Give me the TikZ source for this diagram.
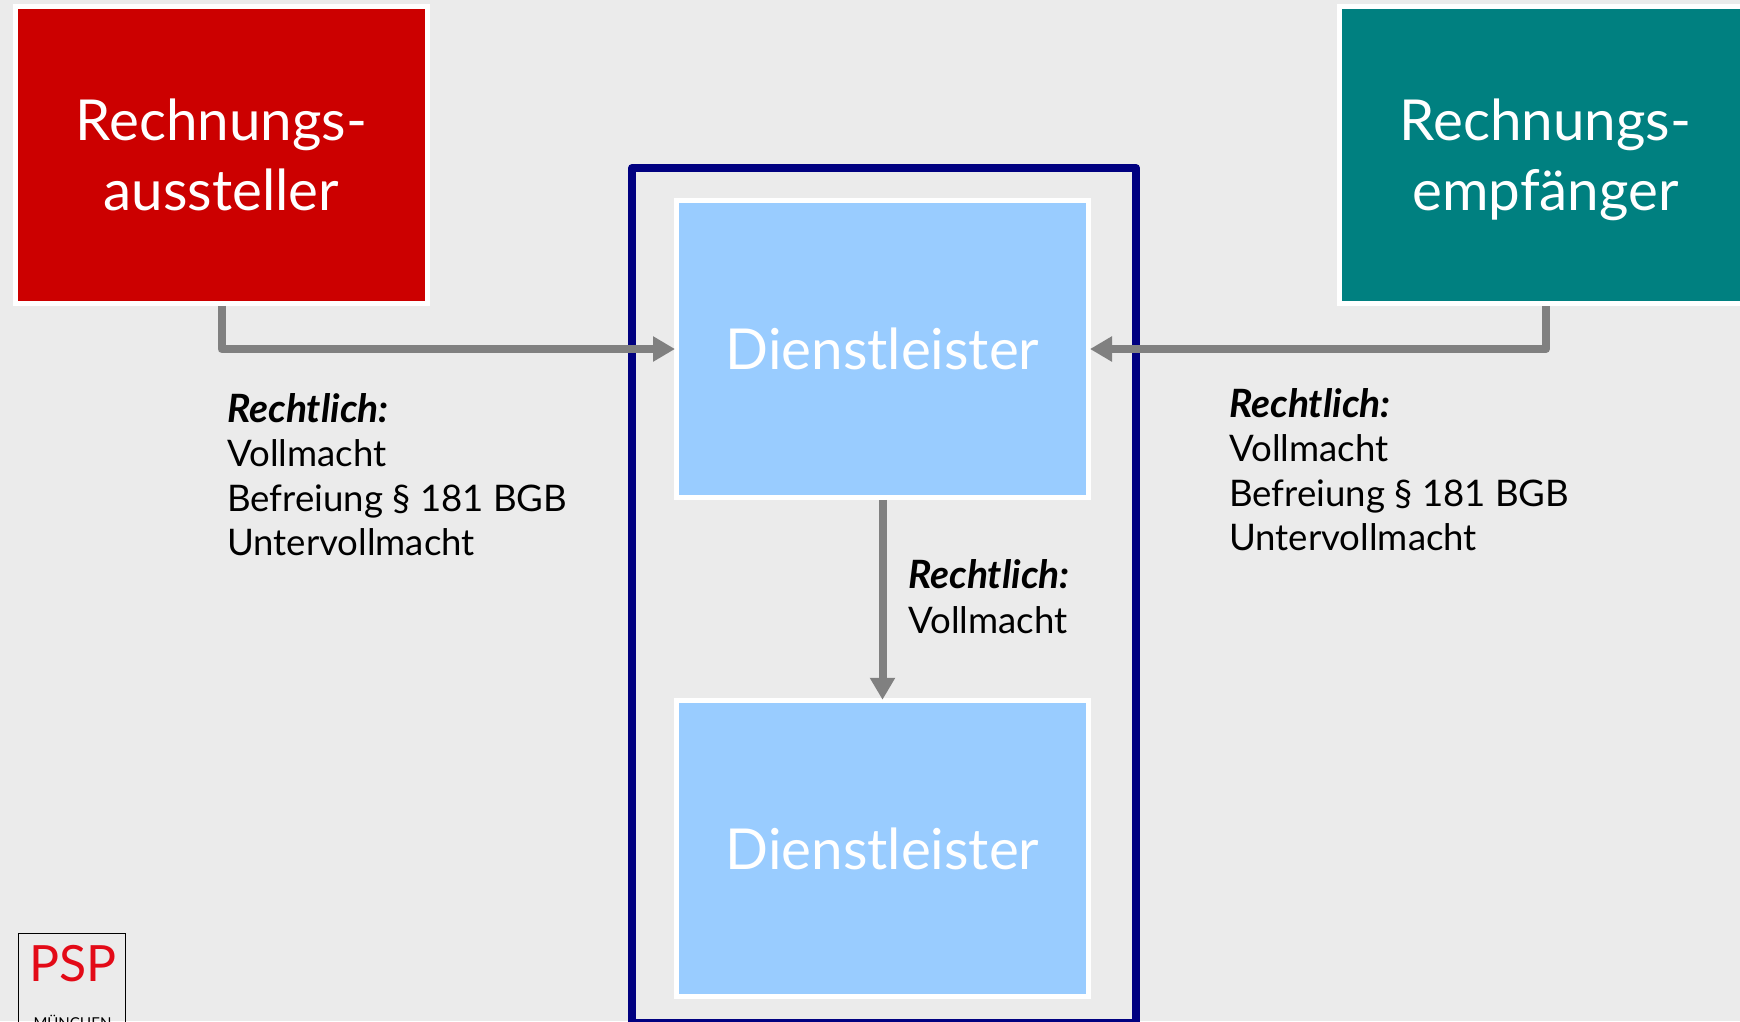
\documentclass[tikz,border=0pt]{standalone}
\usepackage{fontspec}
\setmainfont{Lato}
\usetikzlibrary{arrows.meta, positioning}
\definecolor{pagegrey}{HTML}{EBEBEB}
\definecolor{ausred}{HTML}{CC0000}
\definecolor{empteal}{HTML}{008080}
\definecolor{dienstblue}{HTML}{99CCFF}
\definecolor{framenavy}{HTML}{000080}
\definecolor{linkgrey}{HTML}{808080}
\definecolor{pspred}{HTML}{E30A17}
\newcommand{\rechtlichhead}{{\fontsize{39}{44.6}\selectfont\bfseries\itshape Rechtlich:}}
\tikzset{
    partybox/.style={draw=white,line width=5pt,text=white,align=center,font=\fontsize{56.5}{70}\selectfont,minimum width=412pt,minimum height=296.5pt,inner sep=0pt},
    legal/.style={anchor=north west,align=left,inner sep=0pt,font=\fontsize{36.6}{44.6}\selectfont},
    link/.style={draw=linkgrey,line width=8pt,-{Triangle[length=22pt,width=24pt]},line join=round,shorten >=-1pt}
}
\begin{document}
\begin{tikzpicture}[x=1pt,y=-1pt]
    \useasboundingbox (0,0) rectangle (1740,1021);
    \clip (0,0) rectangle (1740,1021);
    \fill[pagegrey] (0,0) rectangle (1740,1021);

    \draw[framenavy,line width=8pt,line join=round] (632,168) rectangle (1136,1023);

    \node[partybox,fill=ausred] (aussteller) at (221.5,155.2) {\vphantom{Äg}Rechnungs-\\\vphantom{Äg}aussteller};
    \node[partybox,fill=empteal,anchor=west] (empfaenger) at (1337,155.2) {\vphantom{Äg}Rechnungs-\\\vphantom{Äg}empfänger};
    \node[partybox,fill=dienstblue] (oben) at (882.5,349) {Dienstleister};
    \node[partybox,fill=dienstblue] (unten) at (882.5,848.5) {Dienstleister};

    \coordinate (ausknick) at (aussteller.south |- oben.west);
    \coordinate (empknick) at (1546,349);
    \coordinate (empstart) at (1546,306);

    \draw[link] (aussteller.south) -- (ausknick) -- (oben.west);
    \draw[link] (empstart) -- (empknick) -- (oben.east);
    \draw[link,shorten >=-2pt] (oben.south) -- (unten.north);

    \node[legal] (textlinks) at (227,393) {\rechtlichhead\\Vollmacht\\Befreiung § 181 BGB\\Untervollmacht};
    \node[legal] (textrechts) at (1229,388) {\rechtlichhead\\Vollmacht\\Befreiung § 181 BGB\\Untervollmacht};
    \node[legal] (textmitte) at (908,559.5) {\rechtlichhead\\Vollmacht};

    \draw[black,line width=1.2pt] (18.5,1030) |- (125.5,933.5) -- (125.5,1030);
    \node[text=pspred,font=\fontsize{50}{50}\selectfont,inner sep=0pt] (psp) at (73,964) {PSP};
    \node[font=\fontsize{15}{15}\selectfont,inner sep=0pt,anchor=base] (muenchen) at (72.5,1028) {MÜNCHEN};
\end{tikzpicture}
\end{document}
